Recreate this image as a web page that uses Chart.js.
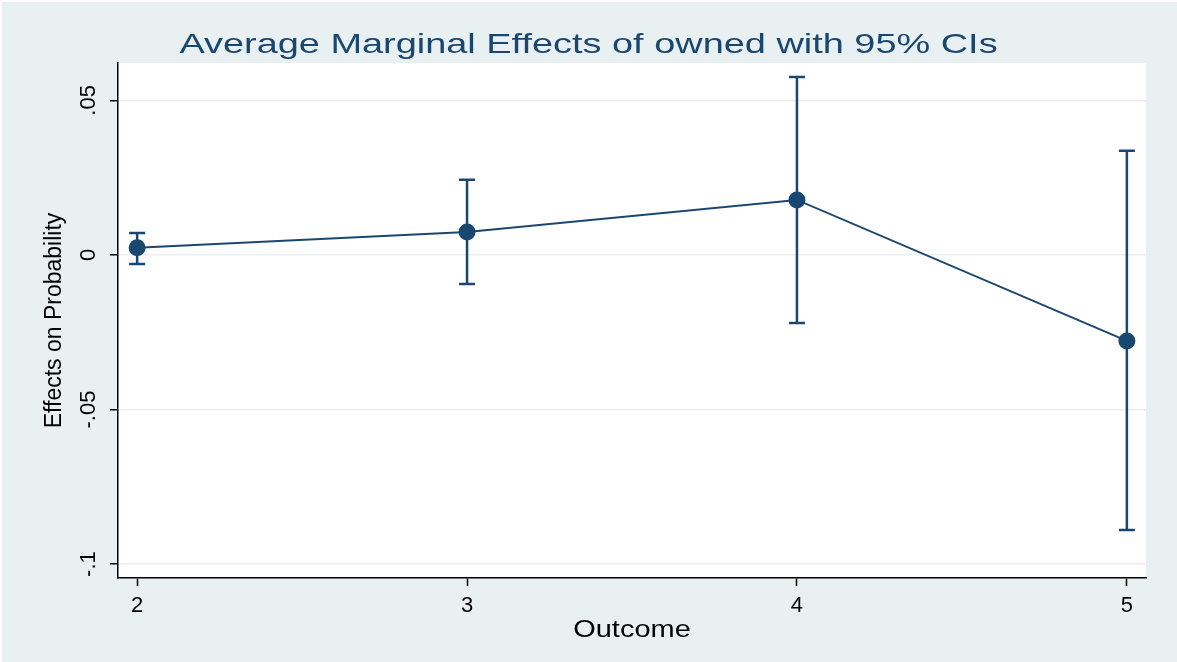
<!DOCTYPE html>
<html>
<head>
<meta charset="utf-8">
<script src="https://cdn.jsdelivr.net/npm/chart.js@4/dist/chart.umd.min.js"></script>
<style>
html,body{margin:0;padding:0;background:#ffffff;}
#wrap{width:1177px;height:662px;position:relative;}
</style>
</head>
<body>
<div id="wrap"><canvas id="c" width="1177" height="662"></canvas></div>
<script>
const outcomes = [2, 3, 4, 5];
const effects = [0.0023, 0.0074, 0.0178, -0.0278];
const ciLower = [-0.0029, -0.0094, -0.0220, -0.0890];
const ciUpper = [0.0071, 0.0243, 0.0576, 0.0337];
const yTickValues = [-0.1, -0.05, 0, 0.05];
const yTickLabels = ['-.1', '-.05', '0', '.05'];
const xTickValues = [2, 3, 4, 5];
const titleText = 'Average Marginal Effects of owned with 95% CIs';
const yTitle = 'Effects on Probability';
const xTitle = 'Outcome';

const navy = '#1a476f';
const bg = '#e9f0f2';
const regular = "'Liberation Sans', Arial, sans-serif";

const bgPlugin = {
  id: 'bg',
  beforeDraw(chart) {
    const ctx = chart.ctx;
    ctx.save();
    ctx.fillStyle = '#ffffff';
    ctx.fillRect(0, 0, chart.width, chart.height);
    ctx.fillStyle = bg;
    ctx.fillRect(2, 2, chart.width - 2, chart.height - 2);
    const a = chart.chartArea;
    ctx.fillStyle = '#ffffff';
    ctx.fillRect(a.left, a.top, a.right - a.left, a.bottom - a.top);
    ctx.restore();
  }
};

const errPlugin = {
  id: 'errbars',
  beforeDatasetsDraw(chart) {
    const ctx = chart.ctx;
    const xs = chart.scales.x, ys = chart.scales.y;
    ctx.save();
    ctx.strokeStyle = navy;
    ctx.lineWidth = 2.5;
    outcomes.forEach((o, i) => {
      const x = xs.getPixelForValue(o);
      const y1 = ys.getPixelForValue(ciLower[i]);
      const y2 = ys.getPixelForValue(ciUpper[i]);
      ctx.beginPath();
      ctx.moveTo(x, y1); ctx.lineTo(x, y2);
      ctx.moveTo(x - 8, y1); ctx.lineTo(x + 8, y1);
      ctx.moveTo(x - 8, y2); ctx.lineTo(x + 8, y2);
      ctx.stroke();
    });
    ctx.restore();
  }
};

const textPlugin = {
  id: 'texts',
  afterDraw(chart) {
    const ctx = chart.ctx;
    const ys = chart.scales.y;
    const a = chart.chartArea;
    ctx.save();
    // y tick labels (rotated)
    ctx.fillStyle = '#000';
    ctx.font = "22px " + regular;
    ctx.textAlign = 'center';
    ctx.textBaseline = 'middle';
    yTickValues.forEach((v, i) => {
      const y = ys.getPixelForValue(v);
      ctx.save();
      ctx.translate(89, y);
      ctx.rotate(-Math.PI / 2);
      ctx.fillText(yTickLabels[i], 0, 0);
      ctx.restore();
    });
    // main title, horizontally stretched as in the reference
    ctx.save();
    ctx.fillStyle = navy;
    ctx.font = "28.5px " + regular;
    ctx.textBaseline = 'alphabetic';
    ctx.translate(chart.width / 2, 52.5);
    ctx.scale(1.33, 1);
    ctx.fillText(titleText, 0, 0);
    ctx.restore();
    // x axis title
    ctx.save();
    ctx.fillStyle = '#000';
    ctx.font = "23px " + regular;
    ctx.textBaseline = 'alphabetic';
    ctx.translate((a.left + a.right) / 2, 637);
    ctx.scale(1.26, 1);
    ctx.fillText(xTitle, 0, 0);
    ctx.restore();
    ctx.restore();
  }
};

new Chart(document.getElementById('c'), {
  type: 'line',
  data: {
    datasets: [{
      data: outcomes.map((o, i) => ({x: o, y: effects[i]})),
      borderColor: navy,
      backgroundColor: navy,
      borderWidth: 2,
      pointRadius: 8.5,
      pointBackgroundColor: navy,
      pointBorderColor: navy,
      pointBorderWidth: 0,
      tension: 0
    }]
  },
  options: {
    responsive: false,
    animation: false,
    devicePixelRatio: 1,
    layout: {padding: {left: 0, right: 31, top: 63, bottom: 0}},
    plugins: {
      legend: {display: false},
      tooltip: {enabled: false},
      title: {display: false}
    },
    scales: {
      x: {
        type: 'linear',
        min: 1.942,
        max: 5.058,
        afterBuildTicks(s) { s.ticks = xTickValues.map(v => ({value: v})); },
        afterFit(s) { s.height = 84; },
        ticks: {
          color: '#000',
          font: {family: regular, size: 22},
          padding: 7,
          maxRotation: 0,
          callback: v => String(v)
        },
        grid: {drawOnChartArea: false, drawTicks: true, tickLength: 8, tickColor: '#000', tickWidth: 1.5},
        border: {display: true, color: '#000', width: 1.5},
        title: {display: false, text: xTitle}
      },
      y: {
        type: 'linear',
        min: -0.1045,
        max: 0.0621,
        afterBuildTicks(s) { s.ticks = yTickValues.map(v => ({value: v})); },
        afterFit(s) { s.width = 118; },
        ticks: {display: false},
        grid: {drawOnChartArea: true, color: '#e9f0f2', lineWidth: 1.5, drawTicks: true, tickLength: 8, tickColor: '#000', tickWidth: 1.5},
        border: {display: true, color: '#000', width: 1.5},
        title: {
          display: true, text: yTitle, color: '#000',
          font: {family: regular, size: 23, lineHeight: 1.2},
          padding: {top: 41, bottom: 0}
        }
      }
    }
  },
  plugins: [bgPlugin, errPlugin, textPlugin]
});
</script>
</body>
</html>
